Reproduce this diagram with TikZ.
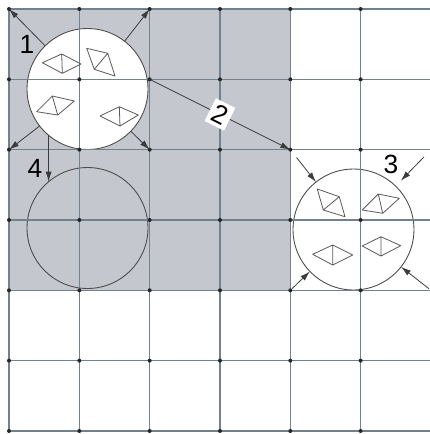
\documentclass[tikz,border=0pt]{standalone}
\usepackage{fontspec}
\setmainfont{Liberation Sans}
\usetikzlibrary{arrows.meta,calc}
\definecolor{cellGray}{RGB}{196,199,205}
\definecolor{gridBlue}{RGB}{112,130,142}
\definecolor{inkGray}{RGB}{60,60,60}

% one split rhombus: outline p1-p2-p3-p4, diagonal p2-p4
\newcommand\kite[4]{\draw[tri] #1 -- #2 -- #3 -- #4 -- cycle #2 -- #4;}

\begin{document}
\begin{tikzpicture}[x=0.02cm, y=-0.02cm,
  gline/.style={draw=gridBlue, line width=0.6pt},
  win/.style={circle, draw=black!70, line width=0.5pt, minimum size=2.42cm, inner sep=0pt, outer sep=0pt},
  arr/.style={-{Latex[length=2mm, width=1.2mm]}, line width=0.45pt, draw=inkGray},
  tri/.style={draw=black!65, line width=0.45pt, line join=round},
  num/.style={font=\fontsize{15}{17}\selectfont, inner sep=1pt}
]
  \useasboundingbox (0,0) rectangle (430,434);

  % grid points
  \foreach \i in {0,...,6}
    \foreach \j in {0,...,6}
      \coordinate (g-\i-\j) at ({9+70.33*\i},{9+70.33*\j});

  % occupied block and the three windows
  \fill[cellGray] (g-0-0) rectangle (g-4-4);
  \node[win, fill=white] (c1) at (87.5,89) {};
  \node[win] (c4) at (87.5,228) {};
  \node[win, fill=white] (c3) at (353.5,229.5) {};

  % grid lines and dots
  \foreach \k in {0,...,6} {
    \draw[gline] (g-\k-0) -- (g-\k-6);
    \draw[gline] (g-0-\k) -- (g-6-\k);
  }
  \foreach \i in {0,...,5}
    \foreach \j in {0,...,6}
      \fill[black!85] (g-\i-\j) circle (2);

  % elements inside window 1
  \kite{(42.3,62.7)}{(61.7,54)}{(81,64)}{(62.3,73.3)}
  \kite{(86.7,48.3)}{(107.7,53.3)}{(115,76)}{(94.3,69.3)}
  \kite{(36.7,111.7)}{(52.3,96)}{(74.3,101)}{(57.7,115)}
  \kite{(100,116)}{(119.3,106.7)}{(138.3,115)}{(120,126)}

  % elements inside window 3
  \kite{(317.3,189)}{(339.3,196.7)}{(345,216.7)}{(323.3,210)}
  \kite{(362.3,210)}{(378.3,194)}{(399.3,198.3)}{(382.7,213.3)}
  \kite{(312.7,254.3)}{(332.7,245)}{(352.7,255)}{(332.7,265)}
  \kite{(362.3,246)}{(381,236.7)}{(400.7,245.7)}{(381,256)}

  % 1: spread to the corners
  \draw[arr] (c1) -- (g-0-0);
  \draw[arr] (c1) -- (g-2-0);
  \draw[arr] (c1) -- (g-0-2);
  \draw[arr] (c1) -- (g-2-2);
  \node[num] (l1) at (27,44) {1};

  % 2: move
  \draw[arr] (g-2-1) -- node[num, sloped, fill=white, inner sep=2pt] (l2) {2} (g-4-2);

  % 3: gather from the corners
  \draw[arr, shorten <=2mm] (g-4-2) -- (c3);
  \draw[arr, shorten <=2mm, shorten >=1.5mm] (g-6-2) -- (c3);
  \draw[arr, shorten <=0.5mm] (g-4-4) -- (c3);
  \draw[arr, shorten <=0.5mm] (g-6-4) -- (c3);
  \node[num] (l3) at (391,164) {3};

  % 4: shift down
  \draw[arr] (c1.230) -- (c4.130);
  \node[num] (l4) at (35,168) {4};
\end{tikzpicture}
\end{document}
